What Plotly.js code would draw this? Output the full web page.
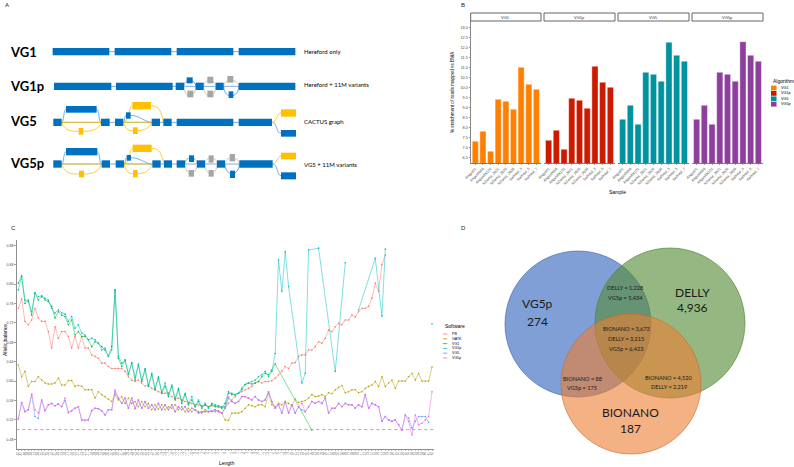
<!DOCTYPE html>
<html><head><meta charset="utf-8">
<script src="https://cdn.plot.ly/plotly-3.0.1.min.js"></script>
<style>html,body{margin:0;padding:0;background:#fff}#chart{width:794px;height:467px}</style>
</head><body><div id="chart"></div>
<script>
// ---------- Panel B data ----------
const samples = ["Angus01","Angus0056","AngusXX102","NDama_3621","NDama_3620","NDama_3639","Sahiwal_3","Sahiwal_5","Sahiwal_7"];
const algorithms = ["VG1","VG1p","VG5","VG5p"];
const enrichVG1  = [7.30,7.80,6.80,9.40,9.30,8.90,11.00,10.15,9.90];
const enrichVG1p = [7.35,7.85,6.90,9.45,9.35,8.95,11.05,10.25,10.00];
const enrichVG5  = [8.40,9.10,8.15,10.75,10.65,10.30,12.25,11.60,11.30];
const enrichVG5p = [8.40,9.10,8.15,10.75,10.65,10.30,12.28,11.60,11.30];
const algoColors = ["#FF7F00","#CC1A00","#00929F","#8E3F9E"];
const enrichTicks = [6.5,7.0,7.5,8.0,8.5,9.0,9.5,10.0,10.5,11.0,11.5,12.0,12.5,13.0];

// ---------- Panel C data ----------
const lengthLabels = ["-62","-61","-60","-59","-58","-57","-56","-55","-54","-53","-52","-51","-50","-49","-48","-47","-46","-45","-44","-43","-42","-41","-40","-39","-38","-37","-36","-35","-34","-33","-32","-31","-30","-29","-28","-27","-26","-25","-24","-23","-22","-21","-20","-19","-18","-17","-16","-15","-14","-13","-12","-11","-10","-9","-8","-7","-6","-5","-4","-3","-2","-1","0","1","2","3","4","5","6","7","8","9","10","11","12","13","14","15","16","17","18","19","20","21","22","23","24","25","26","27","28","29","30","31","32","33","34","35","36","37","38","39","40","41","42","43","44","45","46","47","48","49","50","51","52","53","54","55","56","57","58","59","60","61","62"];
const software = ["PB","GATK","VG1","VG1p","VG5","VG5p"];
const softColors = ["#F8766D","#B79F00","#00BA38","#00BFC4","#619CFF","#F564E3"];
const abPB = [0.750,0.769,0.723,0.716,0.726,0.750,0.730,0.723,0.723,0.702,
 0.668,0.712,0.688,0.702,0.702,0.692,0.668,0.692,0.668,0.692,
 0.668,0.668,0.654,0.651,0.647,0.637,0.637,0.630,0.626,0.626,
 0.626,0.626,0.620,0.609,0.602,0.599,0.602,0.596,0.590,0.592,
 0.585,0.582,0.578,0.575,0.575,0.576,0.568,0.563,0.565,0.561,
 0.558,0.556,0.554,0.551,0.551,0.549,0.550,0.547,0.549,0.549,
 0.547,0.547,0.546,0.554,0.561,0.568,0.575,0.578,0.582,0.585,
 0.589,0.596,0.599,0.596,0.599,0.599,0.601,0.606,0.613,0.620,
 0.630,0.626,0.637,0.638,0.651,0.654,0.654,0.664,0.664,0.671,
 0.681,0.678,0.688,0.705,0.702,0.712,0.719,0.716,0.726,0.726,
 0.736,0.732,0.743,0.750,0.750,0.754,0.771,0.802,0.785,0.840,
 0.860,null,null,null,null,null,null,null,null,null,null,null,null,null,null];
const abGATK = [0.633,0.609,0.620,0.589,0.599,0.599,0.609,0.602,0.596,0.594,
 0.594,0.596,0.606,0.592,0.592,0.601,0.601,0.589,0.591,0.589,
 0.582,0.582,0.582,0.565,0.578,0.572,0.568,0.563,0.558,0.572,
 0.561,0.568,0.554,0.565,0.554,0.558,0.547,0.558,0.547,0.554,
 0.541,0.551,0.542,0.551,0.541,0.547,0.544,0.551,0.541,0.547,
 0.537,0.544,0.537,0.541,0.537,0.534,0.541,0.537,0.537,0.537,
 0.539,0.534,0.520,0.519,0.534,0.534,0.534,0.537,0.544,0.551,
 0.549,0.547,0.551,0.551,0.547,0.575,0.551,0.547,0.554,0.551,
 0.558,0.554,0.549,0.563,0.556,0.558,0.560,0.565,0.572,0.568,
 0.569,0.572,0.568,0.576,0.574,0.582,0.587,0.591,0.576,0.578,
 0.582,0.582,0.576,0.578,0.585,0.589,0.592,0.599,0.589,0.609,
 0.589,0.596,0.602,0.585,0.600,0.600,0.600,0.609,0.616,0.602,
 0.616,0.600,0.600,0.600,0.629];
const abVG1 = [0.802,0.817,0.760,0.767,0.736,0.782,0.767,0.774,0.767,0.764,
 0.754,0.730,0.743,0.736,0.733,0.716,0.726,0.695,0.702,0.692,
 0.692,0.685,0.671,0.681,0.678,0.671,0.664,0.651,0.671,0.788,
 0.647,0.630,0.644,0.613,0.637,0.602,0.633,0.599,0.623,0.589,
 0.613,0.582,0.606,0.575,0.589,0.568,0.589,0.561,0.582,0.554,
 0.572,0.551,0.561,0.547,0.558,0.544,0.551,0.547,0.551,0.547,
 0.547,0.544,0.554,0.578,0.572,0.572,0.575,0.582,0.593,0.596,
 0.594,0.596,0.599,0.609,0.616,0.613,0.623,0.635,null,null,
 null,null,null,null,null,null,null,null,0.499,null,
 null,null,null,null,null,null,null,null,null,null,
 null,null,null,null,null,null,null,null,null,null,
 null,null,null,null,null,null,null,null,null,null,
 null,null,null,null,null];
const abVG1p = [0.788,0.815,0.767,0.764,0.743,0.781,0.774,0.776,0.771,0.767,
 0.750,0.740,0.747,0.741,0.738,0.723,0.733,0.709,0.716,0.699,
 0.695,0.685,0.688,0.685,0.678,0.664,0.668,0.651,0.664,0.788,
 0.651,0.637,0.642,0.616,0.638,0.608,0.635,0.602,0.626,0.592,
 0.616,0.585,0.609,0.578,0.596,0.572,0.592,0.565,0.585,0.558,
 0.575,0.553,0.568,0.547,0.561,0.547,0.554,0.544,0.554,0.551,
 0.549,0.547,0.547,0.575,0.575,0.572,0.575,0.585,0.593,0.596,
 0.599,0.602,0.609,0.613,0.620,0.609,0.620,0.657,0.850,0.785,
 0.867,0.795,null,null,null,0.596,0.616,0.870,null,null,
 0.874,null,null,null,null,0.620,null,null,0.844,null,
 null,null,0.747,null,null,null,null,0.853,null,0.734,
 0.872,null,null,null,null,null,null,null,null,null,
 null,null,null,null,0.718];
const vg1pBreaksBefore = ["40","62"];
const abVG5 = [0.522,0.556,0.537,0.541,0.573,0.527,0.523,0.561,0.539,0.551,
 0.554,0.549,0.553,0.547,0.560,0.535,0.539,0.544,0.547,0.520,
 0.519,0.520,0.539,0.544,0.543,0.539,0.530,0.541,0.541,0.578,
 0.565,0.554,0.565,0.544,0.565,0.543,0.561,0.544,0.558,0.544,
 0.551,0.541,0.554,0.541,0.551,0.541,0.551,0.537,0.547,0.541,
 0.547,0.537,0.544,0.541,0.534,0.537,0.537,0.537,0.539,0.541,
 0.537,0.534,0.544,0.565,0.558,0.554,0.558,0.568,0.568,0.565,
 0.561,0.568,0.561,0.558,0.561,0.578,0.558,0.544,0.551,0.534,
 0.558,0.534,0.551,0.534,0.547,0.541,0.537,0.547,0.558,0.554,
 0.558,0.554,0.565,0.534,0.544,0.544,0.554,0.547,0.554,0.551,
 0.551,0.544,0.551,0.547,0.572,0.544,0.554,0.551,0.547,0.517,
 0.527,0.520,0.517,0.520,0.510,0.499,0.530,0.524,0.503,0.517,
 0.527,0.527,0.527,0.515,null];
const abVG5p = [0.522,0.556,0.537,0.541,0.573,0.541,0.534,0.561,0.539,0.551,
 0.554,0.549,0.553,0.547,0.565,0.535,0.539,0.544,0.547,0.520,
 0.519,0.520,0.539,0.544,0.543,0.539,0.530,0.541,0.541,0.582,
 0.565,0.554,0.565,0.544,0.565,0.543,0.561,0.544,0.558,0.544,
 0.551,0.541,0.554,0.541,0.551,0.541,0.551,0.537,0.547,0.541,
 0.547,0.537,0.544,0.541,0.534,0.537,0.537,0.537,0.539,0.541,
 0.537,0.534,0.544,0.567,0.558,0.554,0.558,0.568,0.568,0.565,
 0.561,0.568,0.561,0.558,0.561,0.578,0.558,0.544,0.551,0.534,
 0.558,0.534,0.551,0.534,0.547,0.554,0.537,0.547,0.558,0.554,
 0.558,0.554,0.565,0.534,0.544,0.544,0.554,0.547,0.554,0.551,
 0.551,0.544,0.551,0.547,0.572,0.544,0.554,0.551,0.547,0.517,
 0.527,0.520,0.517,0.520,0.510,0.499,0.530,0.517,0.489,0.530,
 0.510,0.513,0.520,0.527,0.578];
const abTicks = [0.48,0.52,0.56,0.60,0.64,0.68,0.72,0.76,0.80,0.84,0.88];
const abReference = 0.5;

// ---------- Panel D data ----------
const vennSets = ["VG5p","DELLY","BIONANO"];
const vennOnly = [274, 4936, 187];
const vennVG5pDelly = {DELLY:1228, VG5p:5434};
const vennAll = {BIONANO:3673, DELLY:3215, VG5p:6423};
const vennVG5pBionano = {BIONANO:88, VG5p:175};
const vennBionanoDelly = {BIONANO:4520, DELLY:2219};

// ---------- Panel A schematic (drawing units) ----------
const graphNames = ["VG1","VG1p","VG5","VG5p"];
const graphNotes = ["Hereford only","Hereford + 11M variants","CACTUS graph","VG5 + 11M variants"];
const schemBlue = [
 [158,328,144,166],[344,514,144,166],[530,700,144,166],[716,886,144,166],
 [162,334,248,270],[348,518,248,270],[527,552,248,270],[587,611,248,270],[647,671,248,270],[716,886,248,270],
 [560,578,232,250],[686,700,274,294],
 [160,185,356,378],[303,329,356,378],[345,370,356,378],[455,480,356,378],[490,515,356,378],[530,700,356,378],[716,816,356,378],
 [198,290,318,338],[378,392,337,356],[843,888,390,410],
 [160,185,481,503],[305,330,481,503],[347,372,481,503],[457,482,481,503],[492,516,481,503],[530,555,481,503],[591,615,481,503],[651,675,481,503],[718,818,481,503],
 [198,292,444,466],[380,393,465,482],[567,582,466,486],[690,705,512,534],[843,888,517,538]];
const schemYellow = [[236,250,384,404],[397,453,306,328],[399,413,382,402],[843,888,328,350],
 [237,252,512,532],[398,455,434,456],[399,413,510,532],[843,888,458,478]];
const schemGray = [[562,580,272,292],[622,640,230,250],[622,640,272,292],[682,700,228,248],
 [566,582,510,530],[626,641,466,488],[626,641,510,530],[689,705,462,484]];
const schemBase = [[158,886,155],[162,886,259],[160,816,367],[160,818,492]];
const bubbles = [ // xL, xR, yc, topColour, bottomColour
 [552,587,259,"b","g"],[611,647,259,"g","g"],[671,716,259,"g","b"],
 [555,591,492,"b","g"],[615,651,492,"g","g"],[675,718,492,"g","b"]];
const schemPathsBlue = ["M185,367 C192,367 190,328 198,328","M290,328 C298,328 296,367 303,367",
 "M370,367 C375,367 373,346 378,346","M392,346 C420,346 435,367 455,367","M816,367 C832,367 828,400 843,400",
 "M185,492 C192,492 190,455 198,455","M292,455 C300,455 298,492 305,492",
 "M372,492 C377,492 375,473 380,473","M393,473 C420,473 437,492 457,492","M818,492 C834,492 830,527 843,527"];
const schemPathsYellow = ["M185,367 C195,394 215,394 236,394","M250,394 C275,394 295,390 303,367","M185,367 L303,367",
 "M370,367 C388,367 385,317 397,317","M453,317 C478,317 484,335 490,367",
 "M370,367 C378,392 388,392 399,392","M413,392 C432,392 447,385 455,367","M370,367 L455,367",
 "M816,367 C832,367 828,339 843,339",
 "M185,492 C195,522 215,522 237,522","M252,522 C277,522 297,516 305,492","M185,492 L305,492",
 "M372,492 C390,492 387,445 398,445","M455,445 C480,445 486,465 492,492",
 "M372,492 C380,521 390,521 399,521","M413,521 C433,521 449,512 457,492","M372,492 L457,492",
 "M818,492 C834,492 830,468 843,468"];

// ---------- build ----------
const W = 794, H = 467;
const px = v => v / W, py = v => 1 - v / H;
const FONT = "Liberation Sans, Arial, sans-serif";
const CAL = "Lato, Open Sans, sans-serif";
const BLUE = "#0070C0", YEL = "#FFC000", GRAY = "#A5A5A5", LBLUE = "#5B9BD5", LGRAY = "#BFBFBF";

const traces = [];
const shapes = [];
const ann = [];

traces.push({type:"scatter", x:[], y:[], xaxis:"x", yaxis:"y", hoverinfo:"skip", showlegend:false});
traces.push({type:"scatter", x:[], y:[], xaxis:"x7", yaxis:"y7", hoverinfo:"skip", showlegend:false});

schemBase.forEach(b => shapes.push({type:"line", xref:"x", yref:"y", x0:b[0], x1:b[1], y0:b[2], y1:b[2], line:{color:LBLUE, width:0.8}}));
bubbles.forEach(b => {
  const [xl, xr, yc, tc, bc] = b;
  const top = `M${xl},${yc} C${xl},${yc-24} ${xr},${yc-24} ${xr},${yc}`;
  const bot = `M${xl},${yc} C${xl},${yc+38} ${xr},${yc+38} ${xr},${yc}`;
  shapes.push({type:"path", xref:"x", yref:"y", path:top, line:{color: tc==="b"?LBLUE:LGRAY, width:0.9}});
  shapes.push({type:"path", xref:"x", yref:"y", path:bot, line:{color: bc==="b"?LBLUE:LGRAY, width:0.9}});
});
schemPathsBlue.forEach(p => shapes.push({type:"path", xref:"x", yref:"y", path:p, line:{color:LBLUE, width:0.8}}));
schemPathsYellow.forEach(p => shapes.push({type:"path", xref:"x", yref:"y", path:p, line:{color:YEL, width:0.8}}));
const addBlocks = (arr, col) => arr.forEach(r => shapes.push({type:"rect", xref:"x", yref:"y", x0:r[0], x1:r[1], y0:r[2], y1:r[3], fillcolor:col, line:{width:0}}));
addBlocks(schemBlue, BLUE); addBlocks(schemYellow, YEL); addBlocks(schemGray, GRAY);
const rowY = [155, 259, 364, 490];
const noteY = [155, 254, 364, 492];
graphNames.forEach((n,i) => {
  ann.push({xref:"x", yref:"y", x:24, y:rowY[i], text:"<b>"+n+"</b>", showarrow:false, xanchor:"left", yanchor:"middle", font:{family:CAL, size:13, color:"#000"}});
  ann.push({xref:"x", yref:"y", x:905, y:noteY[i], text:graphNotes[i], showarrow:false, xanchor:"left", yanchor:"middle", font:{family:CAL, size:6, color:"#000"}});
});

// panel B bars
const enrich = [enrichVG1, enrichVG1p, enrichVG5, enrichVG5p];
const facetDom = [[470.7,541],[544,615],[618,689],[692,763]];
const layoutAxes = {};
algorithms.forEach((a,k) => {
  const ax = "x" + (k+2);
  traces.push({type:"bar", x:samples, y:enrich[k], xaxis:ax, yaxis:"y2", width:0.8,
    marker:{color:algoColors[k], line:{color:"#ffffff", width:0.4}}, hoverinfo:"x+y", showlegend:false});
  layoutAxes["xaxis"+(k+2)] = {domain:[px(facetDom[k][0]), px(facetDom[k][1])], anchor:"y2", type:"category",
    range:[-0.6, 8.6], showgrid:false, zeroline:false, showline:true, linecolor:"#333", linewidth:0.6,
    ticks:"outside", ticklen:1.5, tickwidth:0.5, tickcolor:"#333", tickangle:-45,
    tickfont:{family:FONT, size:3.6, color:"#444"}, automargin:false};
  shapes.push({type:"rect", xref:"paper", yref:"paper", x0:px(facetDom[k][0]), x1:px(facetDom[k][1]), y0:py(21), y1:py(13),
    fillcolor:"#ffffff", line:{color:"#555", width:0.9}});
  ann.push({xref:"paper", yref:"paper", x:px((facetDom[k][0]+facetDom[k][1])/2), y:py(17), text:a, showarrow:false,
    xanchor:"center", yanchor:"middle", font:{family:FONT, size:4, color:"#333"}});
});
ann.push({xref:"x7", yref:"y7", x:771, y:81, text:"Algorithm", showarrow:false, xanchor:"left", yanchor:"middle", font:{family:FONT, size:5, color:"#000"}});
algorithms.forEach((a,k) => {
  const yy = 88 + k*5.4;
  shapes.push({type:"rect", xref:"x7", yref:"y7", x0:771, x1:776.5, y0:yy-2.4, y1:yy+2.4, fillcolor:algoColors[k], line:{width:0}});
  ann.push({xref:"x7", yref:"y7", x:779, y:yy, text:a, showarrow:false, xanchor:"left", yanchor:"middle", font:{family:FONT, size:3.8, color:"#000"}});
});
ann.push({xref:"x7", yref:"y7", x:617, y:192, text:"Sample", showarrow:false, xanchor:"center", yanchor:"middle", font:{family:FONT, size:5, color:"#000"}});
ann.push({xref:"x7", yref:"y7", x:452, y:92, text:"% enrichment of reads mapped vs BWA", textangle:-90, showarrow:false, xanchor:"center", yanchor:"middle", font:{family:FONT, size:4.6, color:"#000"}});

// panel C lines
const abSeries = [abPB, abGATK, abVG1, abVG1p, abVG5, abVG5p];
abSeries.forEach((vals, k) => {
  const xs = [], ys = [];
  vals.forEach((v, i) => {
    if (v === null) return;
    if (k === 3 && vg1pBreaksBefore.includes(lengthLabels[i])) { xs.push(lengthLabels[i]); ys.push(null); }
    xs.push(lengthLabels[i]); ys.push(v);
  });
  traces.push({type:"scatter", mode:"lines+markers", x:xs, y:ys, xaxis:"x6", yaxis:"y6", connectgaps:false,
    line:{color:softColors[k], width:0.5}, marker:{color:softColors[k], size:1.6}, name:software[k], showlegend:false});
});
shapes.push({type:"line", xref:"x6 domain", yref:"y6", x0:0, x1:1, y0:abReference, y1:abReference,
  line:{color:"#F47C74", width:0.9, dash:"dot"}});
ann.push({xref:"x7", yref:"y7", x:442.5, y:326, text:"Software", showarrow:false, xanchor:"left", yanchor:"middle", font:{family:FONT, size:5, color:"#000"}});
software.forEach((s,k) => {
  const yy = 334 + k*4.8;
  shapes.push({type:"line", xref:"x7", yref:"y7", x0:442.7, x1:447.5, y0:yy, y1:yy, line:{color:softColors[k], width:0.6}});
  shapes.push({type:"circle", xref:"x7", yref:"y7", x0:444.5, x1:445.7, y0:yy-0.6, y1:yy+0.6, fillcolor:softColors[k], line:{width:0}});
  ann.push({xref:"x7", yref:"y7", x:450, y:yy, text:s, showarrow:false, xanchor:"left", yanchor:"middle", font:{family:FONT, size:3.6, color:"#000"}});
});
ann.push({xref:"x7", yref:"y7", x:227, y:463, text:"Length", showarrow:false, xanchor:"center", yanchor:"middle", font:{family:FONT, size:5, color:"#000"}});
ann.push({xref:"x7", yref:"y7", x:5, y:340, text:"Allelic balance", textangle:-90, showarrow:false, xanchor:"center", yanchor:"middle", font:{family:FONT, size:5, color:"#000"}});

// panel D venn
const fmt = n => n.toLocaleString("en-US");
const circles = [[578,324,73,"rgba(68,114,196,0.68)","#3A5FA8"],[670,323,75,"rgba(84,140,53,0.62)","#4E7A30"],[631,384,70,"rgba(237,125,49,0.6)","#C86A2A"]];
circles.forEach(c => shapes.push({type:"circle", xref:"x7", yref:"y7", x0:c[0]-c[2], x1:c[0]+c[2], y0:c[1]-c[2], y1:c[1]+c[2], fillcolor:c[3], line:{color:c[4], width:0.6}}));
const vt = (x,y,t,s) => ann.push({xref:"x7", yref:"y7", x:x, y:y, text:t, showarrow:false, xanchor:"center", yanchor:"middle", font:{family:CAL, size:s, color:"#1a1a1a"}});
vt(537,303,vennSets[0],12); vt(537,321,fmt(vennOnly[0]),12);
vt(692,292,vennSets[1],12); vt(692,307,fmt(vennOnly[1]),12);
vt(630,412,vennSets[2],12); vt(630,428,fmt(vennOnly[2]),12);
vt(625,287,"DELLY = "+fmt(vennVG5pDelly.DELLY),5.6); vt(625,297,"VG5p = "+fmt(vennVG5pDelly.VG5p),5.6);
vt(626,328.5,"BIONANO = "+fmt(vennAll.BIONANO),5.6); vt(626,338.5,"DELLY = "+fmt(vennAll.DELLY),5.6); vt(626,348,"VG5p = "+fmt(vennAll.VG5p),5.6);
vt(582,378,"BIONANO = "+fmt(vennVG5pBionano.BIONANO),5.6); vt(582,387,"VG5p = "+fmt(vennVG5pBionano.VG5p),5.6);
vt(669,377,"BIONANO = "+fmt(vennBionanoDelly.BIONANO),5.6); vt(669,386,"DELLY = "+fmt(vennBionanoDelly.DELLY),5.6);

[["A",7,5],["B",463,5],["C",13,228],["D",463,228]].forEach(l => ann.push({xref:"x7", yref:"y7", x:l[1], y:l[2], text:l[0], showarrow:false, xanchor:"center", yanchor:"middle", font:{family:FONT, size:6, color:"#222"}}));

const layout = Object.assign({
  width: W, height: H, margin:{l:0,r:0,t:0,b:0}, paper_bgcolor:"#ffffff", plot_bgcolor:"rgba(0,0,0,0)",
  showlegend:false, bargap:0.2,
  xaxis:{domain:[0, px(400)], range:[0,1200], visible:false, fixedrange:true},
  yaxis:{domain:[py(230), 1], range:[690,0], visible:false, fixedrange:true, anchor:"x"},
  yaxis2:{domain:[py(163.3), py(21)], anchor:"x2", range:[6.2, 13.315], tickvals:enrichTicks, ticktext:enrichTicks.map(v=>v.toFixed(1)),
    showgrid:false, zeroline:false, showline:true, linecolor:"#333", linewidth:0.6, ticks:"outside", ticklen:1.5, tickwidth:0.5, tickcolor:"#333",
    tickfont:{family:FONT, size:3.8, color:"#444"}, automargin:false},
  xaxis6:{domain:[px(16.3), px(434)], anchor:"y6", type:"category", categoryorder:"array", categoryarray:lengthLabels, range:[-0.6,124.6],
    showgrid:false, zeroline:false, showline:true, linecolor:"#444", linewidth:0.6, ticks:"outside", ticklen:1.5, tickwidth:0.4, tickcolor:"#555",
    tickangle:-90, tickfont:{family:FONT, size:2.6, color:"#666"}, automargin:false, tickmode:"array", tickvals:lengthLabels, ticktext:lengthLabels},
  yaxis6:{domain:[py(449), py(240.4)], anchor:"x6", range:[0.46, 0.89], tickvals:abTicks, ticktext:abTicks.map(v=>v.toFixed(2)),
    showgrid:false, zeroline:false, showline:true, linecolor:"#444", linewidth:0.6, ticks:"outside", ticklen:1.5, tickwidth:0.5, tickcolor:"#444",
    tickfont:{family:FONT, size:3.6, color:"#444"}, automargin:false},
  xaxis7:{domain:[0,1], range:[0,W], visible:false, fixedrange:true, anchor:"y7"},
  yaxis7:{domain:[0,1], range:[H,0], visible:false, fixedrange:true, anchor:"x7"},
  shapes: shapes, annotations: ann
}, layoutAxes);

Plotly.newPlot("chart", traces, layout, {staticPlot:true, displayModeBar:false});
</script></body></html>
